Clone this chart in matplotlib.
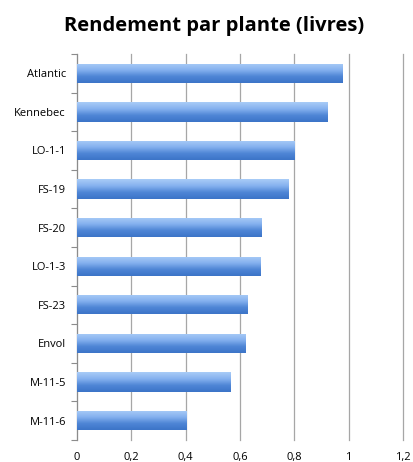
import numpy as np
import matplotlib.pyplot as plt
from matplotlib.colors import LinearSegmentedColormap

plt.rcParams['font.family'] = ['Open Sans', 'DejaVu Sans']

varieties = ['Atlantic', 'Kennebec', 'LO-1-1', 'FS-19', 'FS-20', 'LO-1-3',
             'FS-23', 'Envol', 'M-11-5', 'M-11-6']
yields = [0.978, 0.922, 0.802, 0.779, 0.681, 0.677, 0.629, 0.622, 0.565, 0.404]
xticks = [0, 0.2, 0.4, 0.6, 0.8, 1.0, 1.2]
xtick_labels = ['0', '0,2', '0,4', '0,6', '0,8', '1', '1,2']

fig = plt.figure(figsize=(4.14, 4.62), dpi=100)
ax = fig.add_axes([0.186, 0.048, 0.787, 0.835])

pos = np.arange(len(varieties))
bars = ax.barh(pos, yields, height=0.5, color='#6a9ee6', zorder=2)

# vertical gradient inside each bar, like the office-style bevel
grad = LinearSegmentedColormap.from_list('bev', ['#a9ccf7', '#86b2ef', '#4f86d6', '#3c74c8'])
g = np.linspace(0, 1, 64).reshape(-1, 1)
for b in bars:
    x0, y0 = b.get_x(), b.get_y()
    w, h = b.get_width(), b.get_height()
    im = ax.imshow(g, cmap=grad, aspect='auto', extent=(x0, x0 + w, y0 + h, y0),
                   origin='upper', zorder=3, interpolation='bilinear')
    im.set_clip_path(b)

ax.set_xlim(0, 1.2)
ax.set_ylim(len(varieties) - 0.5, -0.5)
ax.set_xticks(xticks)
ax.set_xticklabels(xtick_labels, fontsize=8)
ax.set_yticks(pos)
ax.set_yticklabels(varieties, fontsize=8)
ax.set_yticks(np.arange(-0.5, len(varieties), 1), minor=True)

ax.grid(axis='x', color='#a6a6a6', linewidth=0.9, zorder=0)
for gl in ax.get_xgridlines():
    gl.set_clip_on(False)
ax.tick_params(axis='x', length=0, pad=9)
ax.tick_params(axis='y', which='major', length=0, pad=8)
ax.tick_params(axis='y', which='minor', length=4, color='#8c8c8c', width=0.8)

for s in ['top', 'right', 'bottom']:
    ax.spines[s].set_visible(False)
ax.spines['left'].set_color('#8c8c8c')
ax.spines['left'].set_linewidth(0.8)

fig.suptitle('Rendement par plante (livres)', fontsize=14.5, fontweight='bold',
             x=0.517, y=0.965)

fig.savefig('out.png', dpi=100)
